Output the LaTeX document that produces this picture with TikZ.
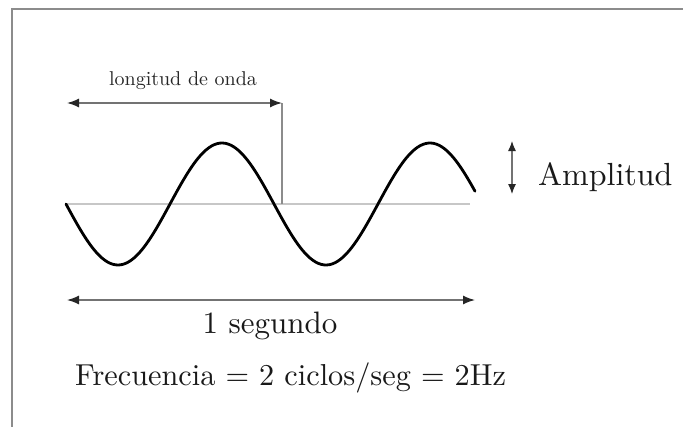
\documentclass[tikz,border=0pt]{standalone}
\usepackage{fontspec}
\setmainfont{lmroman10-regular.otf}
\usetikzlibrary{arrows.meta,positioning}
\begin{document}
\begin{tikzpicture}[x=1pt, y=-1pt,
  a/.style={{Latex[length=12pt,width=9pt,color=black!85]}-{Latex[length=12pt,width=9pt,color=black!85]},
            line width=1.4pt, black!55},
  amp/.style={{Latex[length=10pt,width=8pt,color=black!85]}-{Latex[length=10pt,width=8pt,color=black!85]},
            line width=1.2pt, black!55},
  big/.style={inner sep=0pt, text=black!90, font=\fontsize{32}{38}\selectfont},
  small/.style={inner sep=0pt, text=black!85, font=\fontsize{20}{24}\selectfont}]
\useasboundingbox (0,0) rectangle (683,426);
\draw[black!45, line width=1.5pt] (12,430) |- (690,9);

% baseline and wave
\coordinate (w0) at (67,204);
\coordinate (w1) at (470,204);
\draw[black!22, line width=2pt] (w0) -- (w1);
\draw[line width=2.8pt, line cap=round, domain=66:475, samples=150, smooth]
  plot (\x, {204+61*sin(1.73077*(\x-66))});

% wavelength
\coordinate (l0) at (67,103);
\coordinate (l1) at (282,103);
\coordinate (lx) at (282,204);
\draw[black!45, line width=1.2pt] (l1) -- (lx);
\draw[a] (l0) -- (l1);
\node[small, anchor=base] (lam) at (183,85) {longitud de onda};

% amplitude
\coordinate (a0) at (512,141);
\coordinate (a1) at (512,194);
\draw[amp] (a0) -- (a1);
\node[big, anchor=base west] (amplab) at (538,185) {Amplitud};

% one second
\coordinate (s0) at (67,300);
\coordinate (s1) at (475,300);
\draw[a] (s0) -- (s1);
\node[big, font=\fontsize{31}{36}\selectfont, anchor=base] (sec) at (270,333) {1 segundo};
\node[big, font=\fontsize{30.3}{35}\selectfont, anchor=base west] (freq) at (75,385)
  {Frecuencia = 2 ciclos/seg = 2Hz};
\end{tikzpicture}
\end{document}
